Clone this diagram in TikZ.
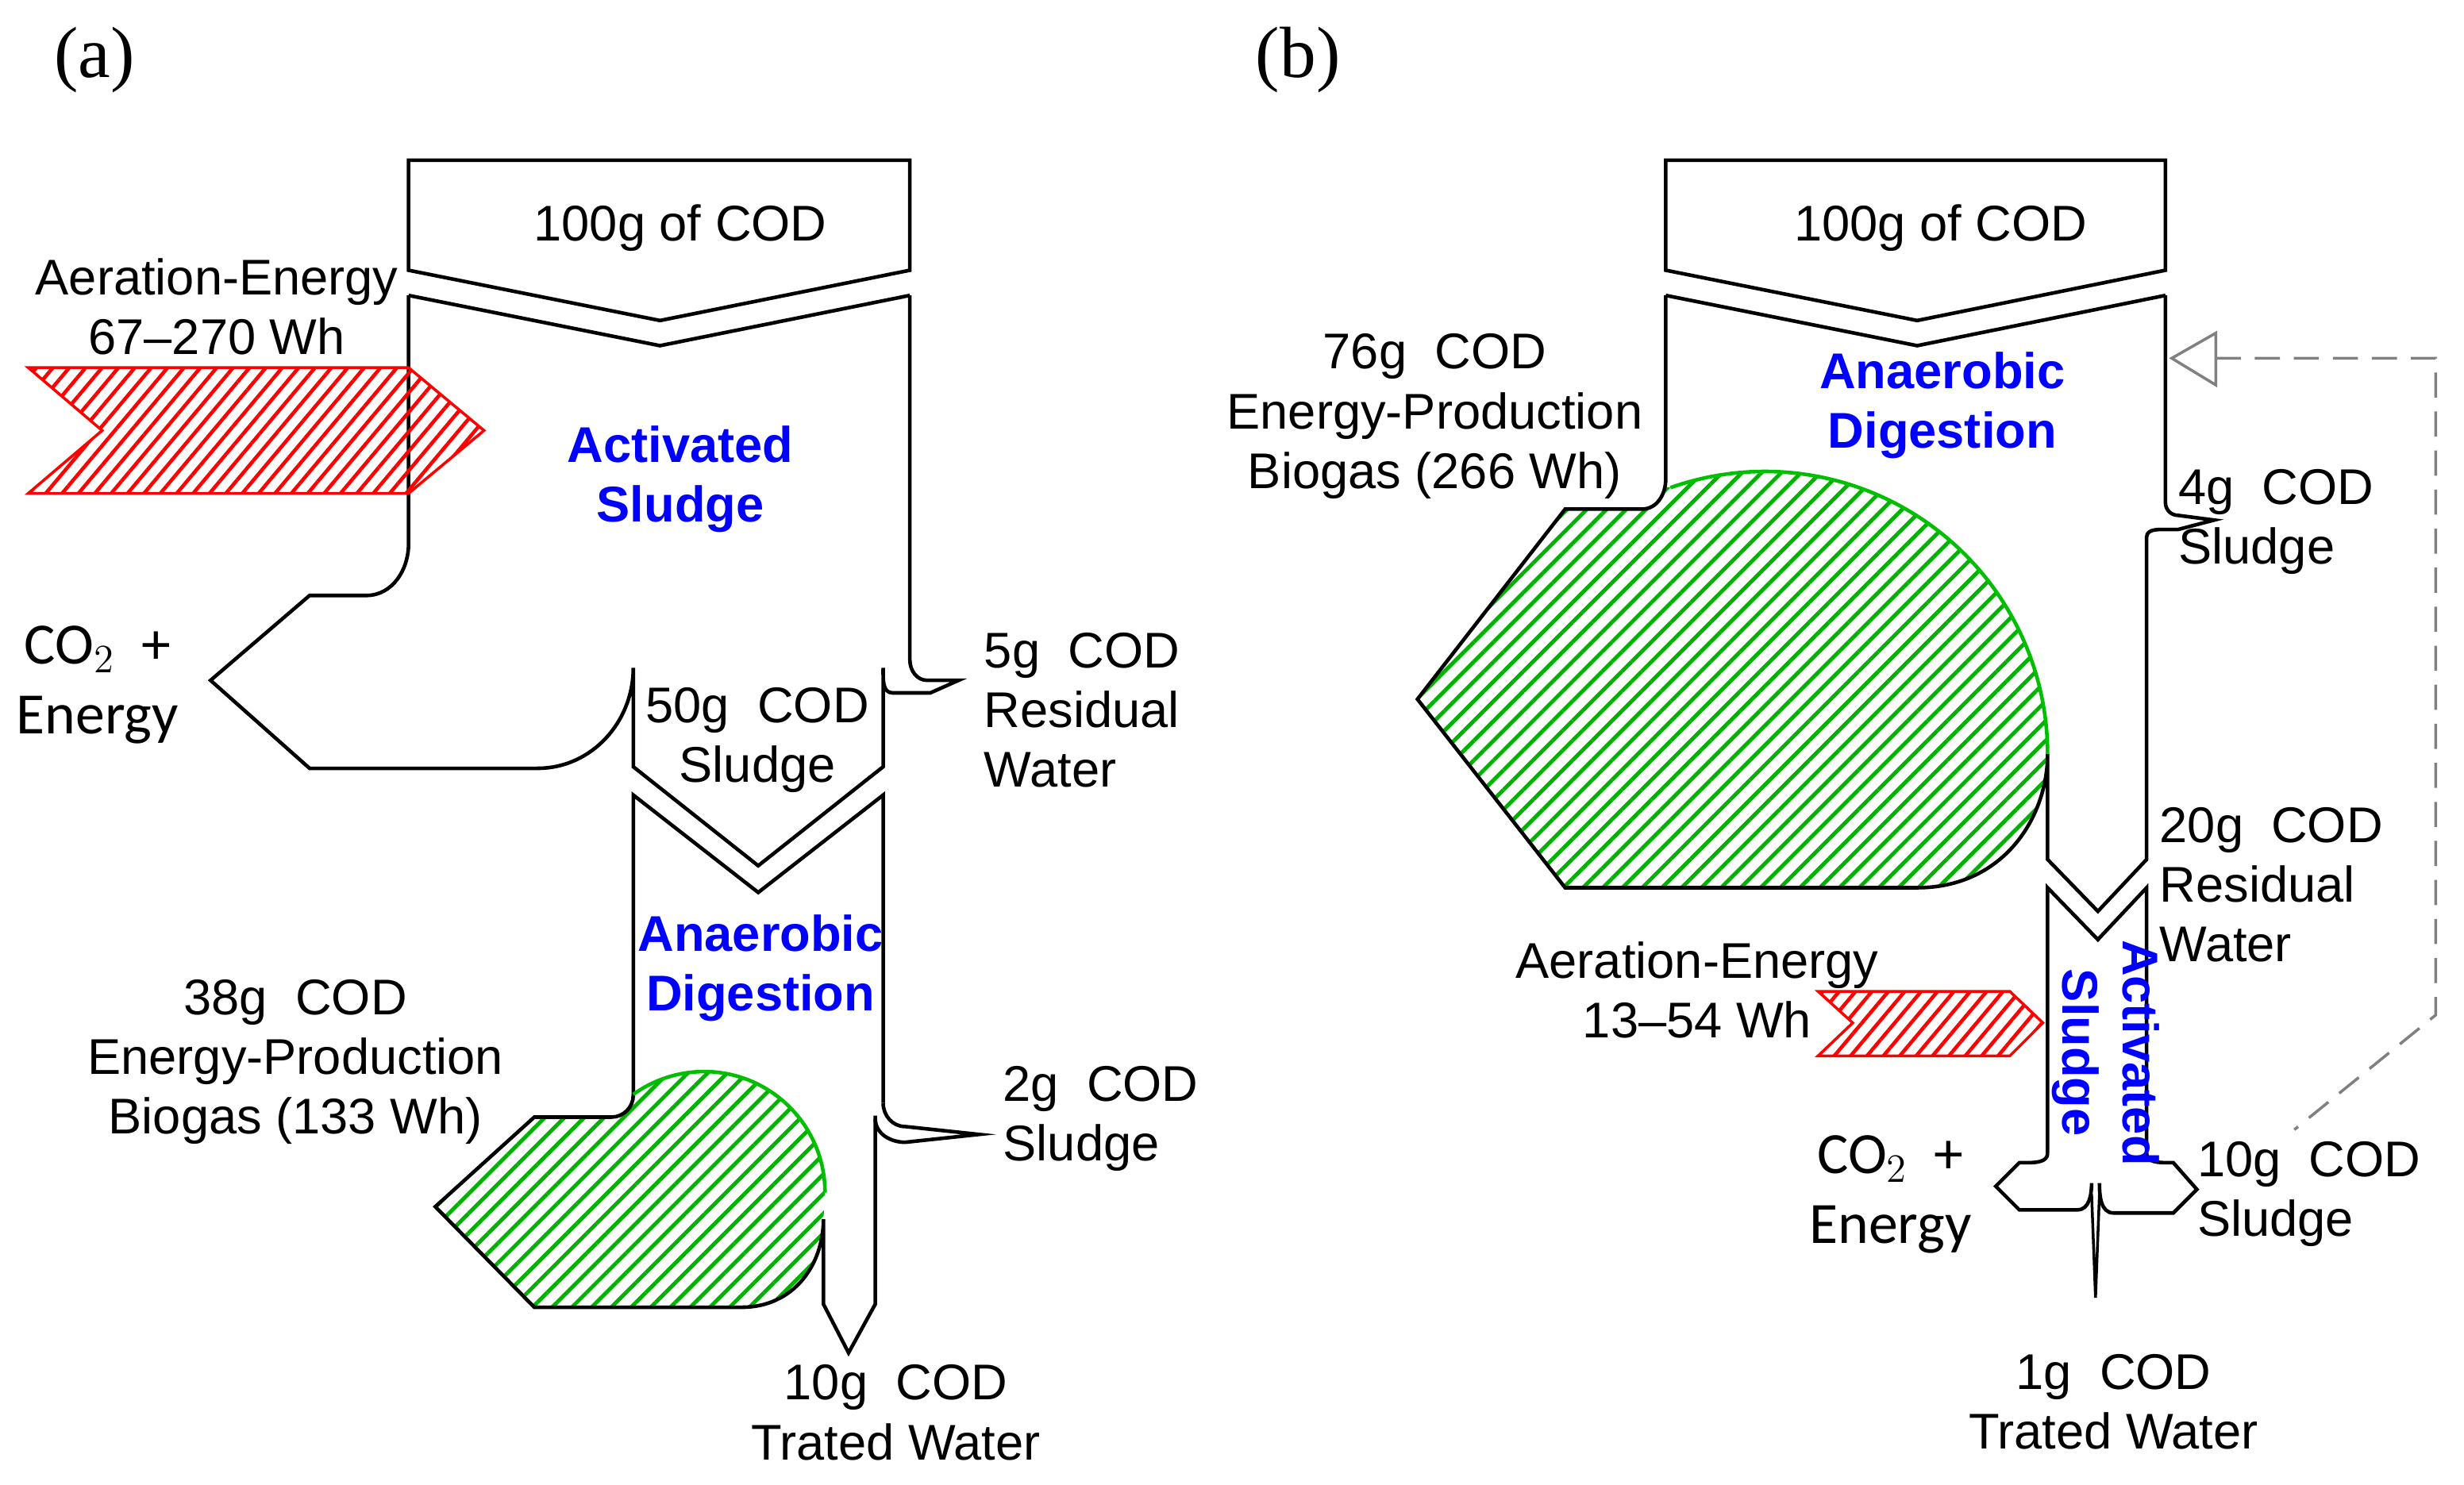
\documentclass[tikz,border=0pt]{standalone}
\usepackage{fontspec}
\setmainfont{Liberation Sans}
\newfontfamily\calib{Carlito}
\newfontfamily\serifpanel{Liberation Serif}
\usetikzlibrary{patterns.meta}

\tikzset{
    wall/.style={draw=black, line width=1.3pt, line join=miter},
    greenhatch/.style={pattern={Lines[angle=45,distance=5pt,line width=1.4pt]}, pattern color=green!70!black},
    redhatch/.style={pattern={Lines[angle=50,distance=4.5pt,line width=1.3pt]}, pattern color=red},
    lbl/.style={font=\fontsize{18}{21.4}\selectfont, align=center, inner sep=0pt},
    lbll/.style={lbl, align=left, anchor=west},
    proc/.style={lbl, font=\fontsize{18}{21.4}\selectfont\bfseries, text=blue},
    gas/.style={lbl, font=\fontsize{21}{25}\calib},
    panel/.style={font=\fontsize{26}{30}\serifpanel, inner sep=0pt}
}

\begin{document}
\begin{tikzpicture}[x=0.0198cm, y=-0.0198cm]
        \useasboundingbox (0,0) rectangle (1568,945);
        % (a) Activated sludge followed by anaerobic digestion
        \node[panel] (pa) at (60,38) {(a)};
        \draw[wall] (260,172) -- (260,102) -- (579,102) -- (579,172) -- (420,204) -- cycle;
        \draw[wall] (260,188) -- (420,220) -- (579,188);
        \draw[wall] (260,188) -- (260,346) to[out=-90,in=0] (233,379) -- (197,379) -- (134,433)
            -- (197,489) -- (342,489) to[out=0,in=-90] (403,425) -- (403,488) -- (482.5,551)
            -- (562,488) -- (562,425) to[out=-90,in=180] (568,441) -- (592,441) -- (610,433)
            -- (590,433) to[out=180,in=-90] (579,420) -- (579,188);
        \filldraw[draw=red, line width=1pt, redhatch] (18,234) -- (260,234) -- (308,274) -- (260,314)
            -- (18,314) -- (65,274) -- cycle;
        % digester and biogas
        \fill[greenhatch] (403,697) to[out=-90,in=0] (389,711) -- (340,711) -- (277,768) -- (340,832)
            -- (472,832) .. controls (505,832) and (524,805) .. (524,776) -- (525,759)
            arc[start angle=0,end angle=125.8,radius=1.525cm] -- cycle;
        \draw[wall] (562,702) -- (562,506) -- (482.5,568) -- (403,506) -- (403,697)
            to[out=-90,in=0] (389,711) -- (340,711) -- (277,768) -- (340,832) -- (472,832)
            .. controls (505,832) and (524,805) .. (524,776) -- (524,830) -- (540,861)
            -- (557,830) -- (557,710);
        \draw[wall] (562,702) to[out=-90,in=180] (576,717) -- (623,722) -- (576,727)
            to[out=180,in=-90] (557,712);
        \draw[green!75!black, line width=1.3pt] (525,759) arc[start angle=0,end angle=125.8,radius=1.525cm];

        \node[lbl] (ina) at (433,145) {100g of COD};
        \node[lbl] (aera) at (138,195) {Aeration-Energy\\67--270 Wh};
        \node[proc] (asa) at (433,305) {Activated\\Sludge};
        \node[gas] (co2a) at (62,436) {CO$_2$\ \ +\\Energy};
        \node[lbll] (resa) at (626,452) {5g\ \ COD\\Residual\\Water};
        \node[lbl] (slua) at (482,471) {50g\ \ COD\\Sludge};
        \node[proc] (ada) at (484,616) {Anaerobic\\Digestion};
        \node[lbl] (bioa) at (188,676) {38g\ \ COD\\Energy-Production\\Biogas (133 Wh)};
        \node[lbll] (slub) at (638,712) {2g\ \ COD\\Sludge};
        \node[lbl] (outa) at (570,899) {10g\ \ COD\\Trated Water};

        % (b) Anaerobic digestion followed by activated sludge
        \node[panel] (pb) at (826,38) {(b)};
        \draw[wall] (1060,172) -- (1060,102) -- (1378,102) -- (1378,172) -- (1220,204) -- cycle;
        \draw[wall] (1060,188) -- (1220,220) -- (1378,188);
        \fill[greenhatch] (1060,310) -- (1060,305) to[out=-90,in=0] (1045,324) -- (996,324)
            -- (902,445) -- (996,565) -- (1220,565) .. controls (1275,565) and (1303,520) .. (1303,480)
            arc[start angle=0,end angle=109.5,radius=3.564cm] -- cycle;
        \draw[wall] (1060,188) -- (1060,305) to[out=-90,in=0] (1045,324) -- (996,324) -- (902,445)
            -- (996,565) -- (1220,565) .. controls (1275,565) and (1303,520) .. (1303,480)
            -- (1303,547) -- (1335,580) -- (1366,547) -- (1366,342) to[out=90,in=180] (1380,337)
            -- (1386,337) -- (1409,331) -- (1386,328) to[out=180,in=-90] (1378,320) -- (1378,188);
        \draw[green!75!black, line width=1.3pt] (1303,480) arc[start angle=0,end angle=109.5,radius=3.564cm];
        \draw[wall] (1303,734) -- (1303,565) -- (1335,598) -- (1366,565) -- (1366,734);
        \draw[wall] (1303,734) to[out=-90,in=0] (1290,740) -- (1285,740) -- (1270,755) -- (1285,770)
            -- (1322,770) to[out=0,in=-90] (1331,753);
        \draw[wall] (1366,734) to[out=-90,in=180] (1380,740) -- (1383,740) -- (1398,757) -- (1383,772)
            -- (1345,772) to[out=180,in=-90] (1336,753);
        \draw[black, line width=1pt] (1331,760) -- (1333.5,826) -- (1336,760);
        \filldraw[draw=red, line width=1pt, redhatch] (1157,631) -- (1279,631) -- (1300,651) -- (1279,672)
            -- (1157,672) -- (1179,651) -- cycle;
        % recycle of sludge
        \coordinate (rec) at (1410,228);
        \draw[gray, line width=1pt] (1382,228) -- (1410,212) -- (1410,245) -- cycle;
        \draw[gray, line width=1pt, dash pattern=on 9pt off 5pt] (rec) -- (1550,228) -- (1550,646) -- (1460,719);

        \node[lbl] (inb) at (1235,145) {100g of COD};
        \node[proc] (adb) at (1236,258) {Anaerobic\\Digestion};
        \node[lbl] (biob) at (913,265) {76g\ \ COD\\Energy-Production\\Biogas (266 Wh)};
        \node[lbll] (slud) at (1386,332) {4g\ \ COD\\Sludge};
        \node[lbll] (resb) at (1374,563) {20g\ \ COD\\Residual\\Water};
        \node[lbl] (aerb) at (1080,630) {Aeration-Energy\\13--54 Wh};
        \node[proc, rotate=-90] (asb) at (1340,670) {Activated\\Sludge};
        \node[gas] (co2b) at (1203,760) {CO$_2$\ \ +\\Energy};
        \node[lbll] (sluc) at (1398,760) {10g\ \ COD\\Sludge};
        \node[lbl] (outb) at (1345,892) {1g\ \ COD\\Trated Water};
\end{tikzpicture}
\end{document}
